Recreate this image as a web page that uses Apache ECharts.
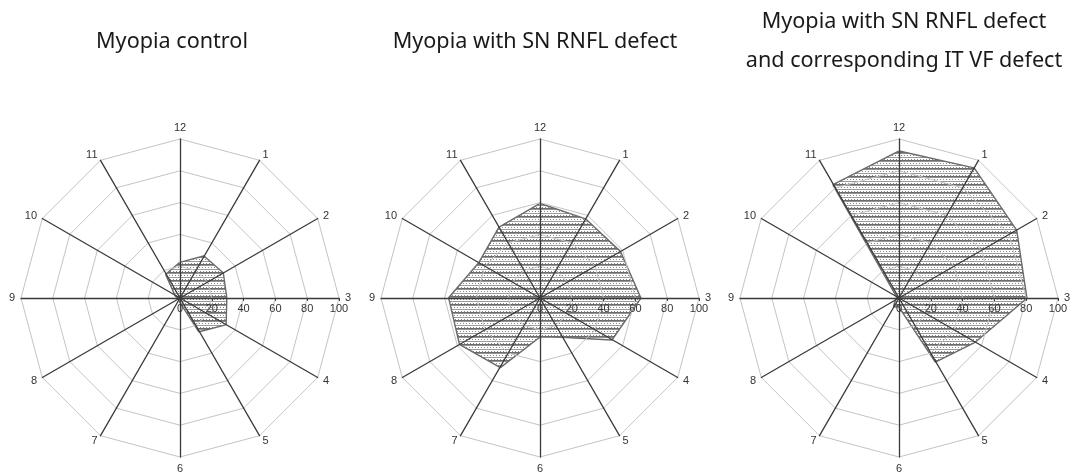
<!DOCTYPE html>
<html>
<head>
<meta charset="utf-8">
<script src="https://cdn.jsdelivr.net/npm/echarts@6/dist/echarts.min.js"></script>
<style>
  html, body { margin: 0; padding: 0; background: #fff; }
  #chart { width: 1073px; height: 475px; }
</style>
</head>
<body>
<div id="chart"></div>
<script>
// Clock-hour sectors, listed clockwise from 12 o'clock
const hours = ['12', '1', '2', '3', '4', '5', '6', '7', '8', '9', '10', '11'];
// Scale ticks along the 3 o'clock spoke
const scaleTicks = [0, 20, 40, 60, 80, 100];

// Per-sector values (0-100) for each group, in the same order as `hours`
const myopiaControl = [22, 30, 31, 29, 33, 24, 2, 1, 1, 1, 3, 17];
const snRnflDefect = [59, 57, 58, 63, 52, 28, 24, 50, 58, 57, 44, 51];
const snRnflItVfDefect = [92, 94, 85, 80, 55, 46, 5, 6, 2, 1, 1, 82];

const panelTitles = [
  'Myopia control',
  'Myopia with SN RNFL defect',
  'Myopia with SN RNFL defect\nand corresponding IT VF defect'
];
// Horizontal centre of each title
const titleCentersX = [172, 535, 904];

// Panel geometry
const centersX = [180, 540, 899];
const centerY = 298;
const R = 159;

// ECharts radar lays indicators out counter-clockwise, so feed them reversed
// (12, 11, 10, ... 1) to get a clockwise clock face.
const order = [0, 11, 10, 9, 8, 7, 6, 5, 4, 3, 2, 1];
const reorder = arr => order.map(i => arr[i]);

// Hatched fill: grey horizontal rules of varying weight with dotted rows between
function makeHatch() {
  const w = 6, h = 8;
  const c = document.createElement('canvas');
  c.width = w; c.height = h;
  const g = c.getContext('2d');
  g.fillStyle = '#ffffff';
  g.fillRect(0, 0, w, h);
  const rows = [[0, '#6c6c6c'], [1, '#939393'], [5, '#9a9a9a']];
  rows.forEach(([y, col]) => { g.fillStyle = col; g.fillRect(0, y, w, 1); });
  g.fillStyle = '#858585';
  [[1, 3], [4, 3], [2, 7], [5, 7]].forEach(([x, y]) => g.fillRect(x, y, 1, 1));
  return c;
}
const hatch = { image: makeHatch(), repeat: 'repeat' };

const groups = [myopiaControl, snRnflDefect, snRnflItVfDefect];
const textFont = 'Liberation Sans, Arial, sans-serif';

const option = {
  backgroundColor: '#ffffff',
  animation: false,
  title: panelTitles.map((t, i) => ({
    text: t,
    // title boxes carry 5px padding, so shift by it to centre the text itself
    left: titleCentersX[i] - 5,
    top: i === 2 ? -3 : 17,
    textAlign: 'center',
    textStyle: {
      fontFamily: 'Noto Sans, sans-serif',
      fontSize: 21.6,
      fontWeight: 'normal',
      color: '#1a1a1a',
      lineHeight: 39
    }
  })),
  radar: centersX.map(cx => ({
    z: 2,
    center: [cx, centerY],
    radius: R,
    startAngle: 90,
    shape: 'polygon',
    splitNumber: 5,
    nameGap: 6,
    indicator: reorder(hours).map(h => ({ name: h, min: 0, max: 100 })),
    axisName: { color: '#333', fontSize: 11, fontFamily: textFont },
    axisLine: { lineStyle: { color: '#3a3a3a', width: 1.3 } },
    axisTick: { show: false },
    axisLabel: { show: false },
    splitLine: { lineStyle: { color: '#c4c4c4', width: 1 } },
    splitArea: { show: false }
  })),
  // Cartesian value axes laid along each 3 o'clock spoke to carry the 0-100 scale
  grid: centersX.map(cx => ({
    left: cx, width: R, top: centerY - 20, height: 20, containLabel: false
  })),
  xAxis: centersX.map((cx, i) => ({
    gridIndex: i,
    z: 5,
    type: 'value',
    min: scaleTicks[0],
    max: scaleTicks[scaleTicks.length - 1],
    interval: scaleTicks[1] - scaleTicks[0],
    position: 'bottom',
    axisLine: { show: false },
    axisTick: { show: true, length: 3, lineStyle: { color: '#3a3a3a' } },
    splitLine: { show: false },
    axisLabel: { color: '#333', fontSize: 11, fontFamily: textFont, margin: 5 }
  })),
  yAxis: centersX.map((cx, i) => ({ gridIndex: i, type: 'value', show: false })),
  series: groups.map((vals, i) => ({
    type: 'radar',
    radarIndex: i,
    z: 1,
    symbol: 'none',
    lineStyle: { color: '#6a6a6a', width: 2.8 },
    areaStyle: { color: hatch, opacity: 1 },
    data: [{ value: reorder(vals) }]
  }))
};

const chart = echarts.init(document.getElementById('chart'), null, { renderer: 'canvas' });
chart.setOption(option);
</script>
</body>
</html>
